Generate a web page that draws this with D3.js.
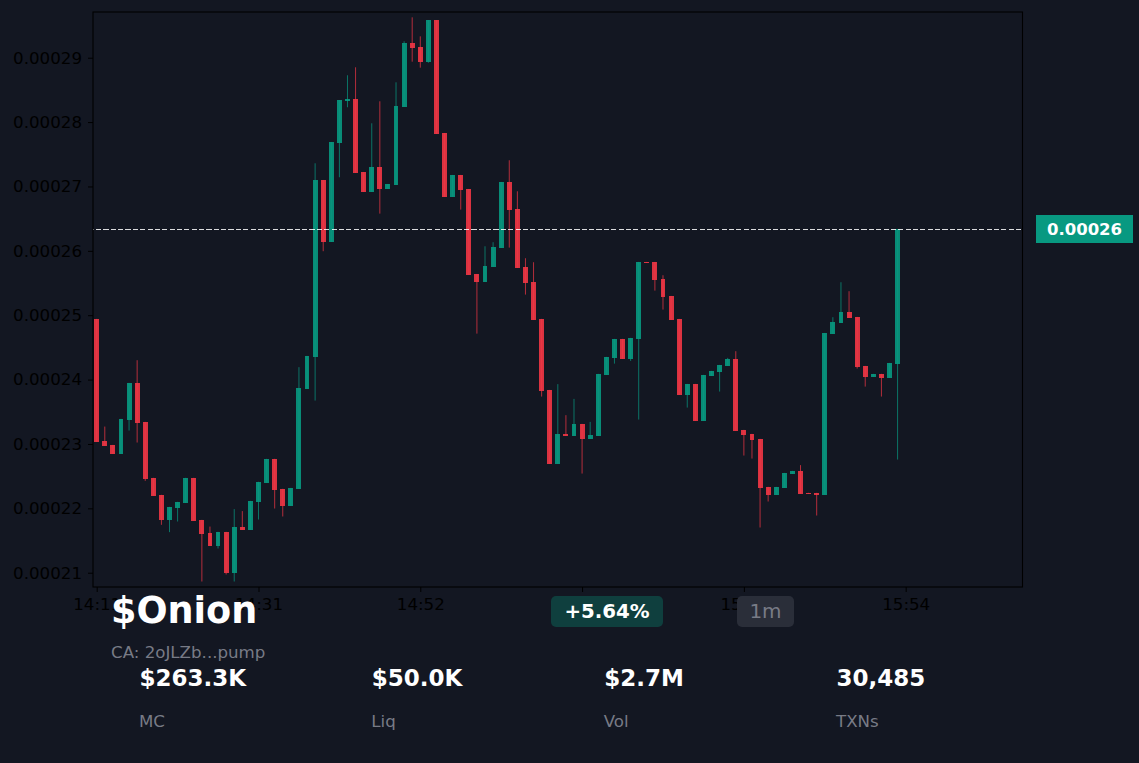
<!DOCTYPE html>
<html>
<head>
<meta charset="utf-8">
<script src="https://cdn.jsdelivr.net/npm/d3@7/dist/d3.min.js"></script>
<style>
html,body{margin:0;padding:0;background:#131722;overflow:hidden}
svg{display:block}
text{font-family:"DejaVu Sans",sans-serif}
</style>
</head>
<body>
<svg id="c" width="1139" height="763"></svg>
<script>
// prices are in units of 1e-5
const PRICE_UNIT = 1e-5;
const opens = [24.943,23.048,22.986,22.846,23.374,23.949,23.343,22.474,22.210,21.821,22.008,22.085,22.474,21.821,21.620,21.418,21.635,20.998,21.713,21.666,22.101,22.396,22.769,22.303,22.039,22.303,23.856,24.353,27.101,26.138,27.675,28.328,28.359,27.225,26.915,27.303,26.961,27.023,28.235,29.228,29.166,28.933,29.585,27.831,26.837,27.179,26.961,25.641,25.517,25.750,26.045,27.070,26.651,25.750,25.517,24.943,23.840,22.691,23.157,23.126,23.312,23.079,23.126,24.073,24.337,24.632,24.321,24.632,25.828,25.828,25.564,25.300,24.943,23.762,23.933,23.359,24.057,24.120,24.213,24.321,23.219,23.157,23.079,22.334,22.210,22.318,22.536,22.582,22.241,22.241,22.210,24.710,24.880,25.051,24.974,24.213,24.042,24.089,24.026,24.244];
const closes = [23.033,22.971,22.846,23.390,23.949,23.328,22.458,22.194,21.821,22.023,22.101,22.474,21.806,21.604,21.418,21.635,20.998,21.713,21.666,22.116,22.412,22.769,22.287,22.039,22.318,23.871,24.368,27.101,26.138,27.691,28.343,28.359,27.210,26.915,27.303,26.961,27.039,28.250,29.228,29.151,28.933,29.585,27.815,26.837,27.179,26.946,25.626,25.517,25.766,26.061,27.070,26.635,25.734,25.502,24.927,23.825,22.691,23.157,23.126,23.312,23.079,23.141,24.089,24.353,24.632,24.321,24.648,25.828,25.812,25.548,25.284,24.927,23.762,23.933,23.359,24.073,24.135,24.228,24.321,23.203,23.141,23.064,22.318,22.210,22.334,22.551,22.582,22.225,22.225,22.210,24.725,24.896,25.051,24.958,24.197,24.042,24.089,24.026,24.259,26.340];
const highs = [24.943,23.270,22.986,23.390,23.949,24.301,23.343,22.474,22.210,22.023,22.101,22.474,22.474,21.821,21.717,21.635,21.635,21.988,21.957,22.116,22.412,22.769,22.769,22.303,22.318,24.193,24.368,27.360,27.101,27.691,28.343,28.727,28.851,27.225,27.981,28.323,27.039,28.618,29.255,29.627,29.332,29.585,29.585,27.831,27.179,27.179,26.961,25.641,26.071,26.134,27.070,27.407,26.925,25.885,25.823,24.943,23.840,23.929,23.447,23.700,23.312,23.343,24.089,24.353,24.632,24.632,24.648,25.828,25.828,25.828,25.621,25.300,24.943,23.933,23.933,24.073,24.135,24.228,24.337,24.441,23.219,23.157,23.079,22.334,22.334,22.551,22.582,22.671,22.241,22.241,24.725,24.969,25.512,25.373,24.974,24.213,24.089,24.089,24.259,26.340];
const lows = [23.033,22.971,22.846,22.846,23.208,23.022,22.427,22.194,21.744,21.630,21.795,22.085,21.806,20.863,21.418,21.376,20.972,20.863,21.666,21.666,21.826,22.396,21.997,21.873,22.039,22.303,23.856,23.674,25.994,26.138,27.143,28.230,27.210,26.915,26.915,26.578,26.961,27.023,28.235,28.938,28.845,28.922,27.815,26.837,26.837,26.640,25.626,24.714,25.517,25.750,26.045,26.050,25.734,25.320,24.927,23.736,22.691,22.691,23.126,23.126,22.540,23.079,23.126,24.073,24.248,24.321,24.290,23.379,25.812,25.382,25.087,24.927,23.762,23.565,23.359,23.359,24.057,23.814,24.213,23.203,22.820,22.773,21.702,22.106,22.210,22.318,22.536,22.225,22.225,21.888,22.210,24.710,24.880,24.958,24.171,23.891,24.042,23.736,24.026,22.758];

const lastPrice = 26.33;
const lastPriceLabel = "0.00026";
const yTicks = [21,22,23,24,25,26,27,28,29];
const xTicks = [0,20,40,60,80,100];
const xTickLabels = ["14:11","14:31","14:52","15:12","15:33","15:54"];
const title = "$Onion";
const contract = "CA: 2oJLZb...pump";
const change = "+5.64%";
const timeframe = "1m";
const metricValues = ["$263.3K","$50.0K","$2.7M","30,485"];
const metricLabels = ["MC","Liq","Vol","TXNs"];

const UP = "#089981", DOWN = "#f23645";
const BG = "#131722", GREY = "#787b86";

const svg = d3.select("#c");
const M = {l:93, r:1022.5, t:12, b:587};
const x = d3.scaleLinear().domain([-0.457,114.44]).range([M.l,M.r]);
const y = d3.scaleLinear().domain([20.778,29.71]).range([M.b,M.t]);

svg.append("rect").attr("width",1139).attr("height",763).attr("fill",BG);

// candles
const candles = d3.range(opens.length).map(i=>({i,o:opens[i],c:closes[i],h:highs[i],l:lows[i]}));
const bw = 4.9;
const g = svg.append("g");
g.selectAll("line.w").data(candles).join("line").attr("class","w")
  .attr("x1",d=>x(d.i)).attr("x2",d=>x(d.i))
  .attr("y1",d=>y(d.h)).attr("y2",d=>y(d.l))
  .attr("stroke",d=>d.c>=d.o?UP:DOWN).attr("stroke-width",0.8).attr("stroke-opacity",0.9);
g.selectAll("rect.b").data(candles).join("rect").attr("class","b")
  .attr("x",d=>x(d.i)-bw/2).attr("width",bw)
  .attr("y",d=>y(Math.max(d.o,d.c)))
  .attr("height",d=>Math.max(1,Math.abs(y(d.o)-y(d.c))))
  .attr("fill",d=>d.c>=d.o?UP:DOWN).attr("fill-opacity",0.9)
  .attr("shape-rendering","crispEdges");

// last price line
svg.append("line").attr("x1",M.l).attr("x2",M.r).attr("y1",y(lastPrice)).attr("y2",y(lastPrice))
  .attr("stroke","#fff").attr("stroke-opacity",0.85).attr("stroke-width",1)
  .attr("stroke-dasharray","5.14 2.22").attr("stroke-dashoffset",-3)
  .attr("shape-rendering","crispEdges");

// axes
const yAxis = d3.axisLeft(y).tickValues(yTicks).tickSize(5).tickPadding(6)
  .tickFormat(d=>(d*PRICE_UNIT).toFixed(5));
const xAxis = d3.axisBottom(x).tickValues(xTicks).tickSize(5).tickPadding(6)
  .tickFormat((d,i)=>xTickLabels[i]);
const gy = svg.append("g").attr("transform",`translate(${M.l},0)`).call(yAxis);
const gx = svg.append("g").attr("transform",`translate(0,${M.b})`).call(xAxis);
[gy,gx].forEach(a=>{
  a.select(".domain").remove();
  a.selectAll("line").attr("stroke","#000").attr("stroke-width",1);
  a.selectAll("text").attr("fill","#000").style("font-size","16.67px");
});
svg.append("rect").attr("x",M.l).attr("y",M.t).attr("width",M.r-M.l).attr("height",M.b-M.t)
  .attr("fill","none").attr("stroke","#000").attr("stroke-width",1.1);

// last price tag
svg.append("rect").attr("x",1036).attr("y",215).attr("width",97).attr("height",28).attr("fill","#089981");
svg.append("text").attr("x",1084.5).attr("y",234.8).attr("text-anchor","middle")
  .attr("fill","#fff").attr("font-weight","bold").style("font-size","16.5px").text(lastPriceLabel);

// header
svg.append("text").attr("x",111).attr("y",622.5).attr("fill","#fff").attr("font-weight","bold")
  .style("font-size","36.6px").text(title);
svg.append("text").attr("x",111).attr("y",658).attr("fill",GREY).style("font-size","16.67px").text(contract);

svg.append("rect").attr("x",551).attr("y",596).attr("width",112).attr("height",31).attr("rx",5)
  .attr("fill","#0f3f3e");
svg.append("text").attr("x",607).attr("y",617.5).attr("text-anchor","middle").attr("fill","#fff")
  .attr("font-weight","bold").style("font-size","19.8px").text(change);
svg.append("rect").attr("x",737).attr("y",596).attr("width",57).attr("height",31).attr("rx",5)
  .attr("fill","#2a2e39");
svg.append("text").attr("x",765.5).attr("y",617.5).attr("text-anchor","middle").attr("fill",GREY)
  .style("font-size","20px").text(timeframe);

const metricX = d3.scalePoint().domain(d3.range(metricValues.length)).range([139.5,836.5]);
metricValues.forEach((v,i)=>{
  svg.append("text").attr("x",metricX(i)).attr("y",685.5).attr("fill","#fff").attr("font-weight","bold")
    .style("font-size","23px").text(v);
  svg.append("text").attr("x",metricX(i)-0.5).attr("y",727).attr("fill",GREY)
    .style("font-size","16.67px").text(metricLabels[i]);
});
</script>
</body>
</html>
